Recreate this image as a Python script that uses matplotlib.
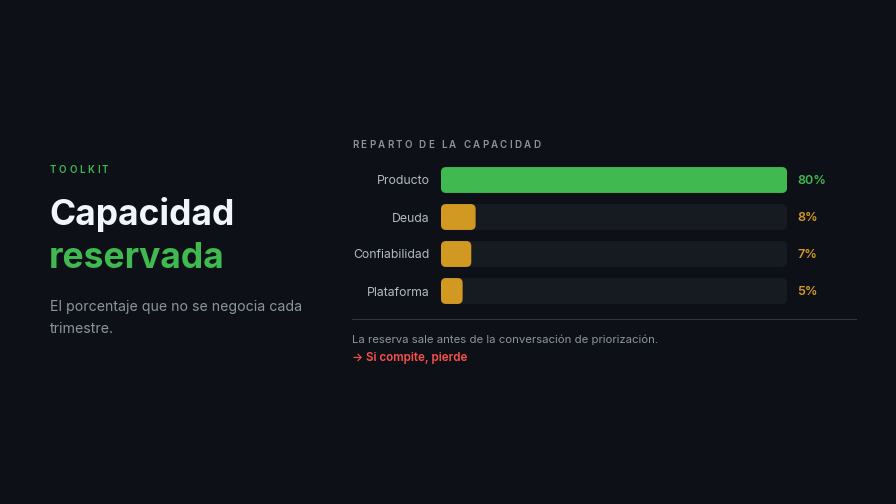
import matplotlib.pyplot as plt
from matplotlib.patches import FancyBboxPatch

plt.rcParams['font.family'] = ['Inter', 'DejaVu Sans']

## Data
categories = ['Producto', 'Deuda', 'Confiabilidad', 'Plataforma']
values = [80, 8, 7, 5]
value_labels = ['80%', '8%', '7%', '5%']
scale_max = max(values)

## Colours
BG = '#0d1117'
TRACK = '#161b22'
GREEN = '#3fb950'
AMBER = '#d29922'
RED = '#f85149'
MUTED = '#8b949e'
LABEL = '#b1bac4'
WHITE = '#f0f6fc'
RULE = '#30363d'
bar_colors = [GREEN, AMBER, AMBER, AMBER]

W, H = 896, 504
fig = plt.figure(figsize=(W / 100, H / 100), dpi=100, facecolor=BG)


def px(x, y):
    return x / W, 1 - y / H


def spaced_text(x, y, s, spacing, **kw):
    # draw letters one by one to imitate css letter-spacing
    renderer = fig.canvas.get_renderer()
    cur = x
    for ch in s:
        t = fig.text(*px(cur, y), ch, va='center', ha='left', **kw)
        w = t.get_window_extent(renderer).width
        if ch == ' ':
            w = kw.get('fontsize', 10) * 0.35
        cur += w + spacing


## Left block
spaced_text(50, 170, 'TOOLKIT', 2.6, color=GREEN, fontsize=7, fontweight='semibold')
fig.text(*px(49, 215), 'Capacidad', color=WHITE, fontsize=25.5, fontweight='bold', va='center')
fig.text(*px(49, 259), 'reservada', color=GREEN, fontsize=25.5, fontweight='bold', va='center')
fig.text(*px(50, 307), 'El porcentaje que no se negocia cada', color=MUTED, fontsize=10.2, va='center')
fig.text(*px(50, 329), 'trimestre.', color=MUTED, fontsize=10.2, va='center')

## Right block
spaced_text(352, 145, 'REPARTO DE LA CAPACIDAD', 2.3, color=MUTED, fontsize=7, fontweight='semibold')

left, right = 441, 787
top, bottom = 161.5, 309.5
ax = fig.add_axes([left / W, 1 - bottom / H, (right - left) / W, (bottom - top) / H])
ax.set_facecolor('none')
ax.set_xlim(0, scale_max)
ax.set_ylim(len(categories) - 0.5, -0.5)
for s in ax.spines.values():
    s.set_visible(False)
ax.set_xticks([])
ax.set_yticks(range(len(categories)))
ax.set_yticklabels(categories, color=LABEL, fontsize=8.8)
ax.tick_params(axis='y', length=0, pad=8)

bar_h = 0.70
x_per_px = scale_max / (right - left)
y_per_px = len(categories) / (bottom - top)
r = 5 * x_per_px
aspect = y_per_px / x_per_px
for i, (v, c) in enumerate(zip(values, bar_colors)):
    track = FancyBboxPatch((0, i - bar_h / 2), scale_max, bar_h,
                           boxstyle=f'round,pad=0,rounding_size={r}',
                           mutation_aspect=aspect, fc=TRACK, ec='none')
    ax.add_patch(track)
    bar = FancyBboxPatch((0, i - bar_h / 2), v, bar_h,
                         boxstyle=f'round,pad=0,rounding_size={r}',
                         mutation_aspect=aspect, fc=c, ec='none')
    ax.add_patch(bar)
    ax.annotate(value_labels[i], xy=(scale_max, i), xytext=(7.5, -0.5),
                textcoords='offset points', va='center', ha='left',
                color=c, fontsize=9, fontweight='semibold')

## Divider and notes
fig.add_artist(plt.Line2D([352 / W, 856 / W], [1 - 319 / H] * 2, color=RULE, lw=0.8))
fig.text(*px(352, 340), 'La reserva sale antes de la conversación de priorización.',
         color=MUTED, fontsize=8.2, va='center')
fig.text(*px(352, 358), '→ Si compite, pierde', color=RED, fontsize=8.4,
         fontweight='semibold', va='center', family=['Inter', 'DejaVu Sans'])

fig.savefig('out.png', dpi=100, facecolor=BG)
